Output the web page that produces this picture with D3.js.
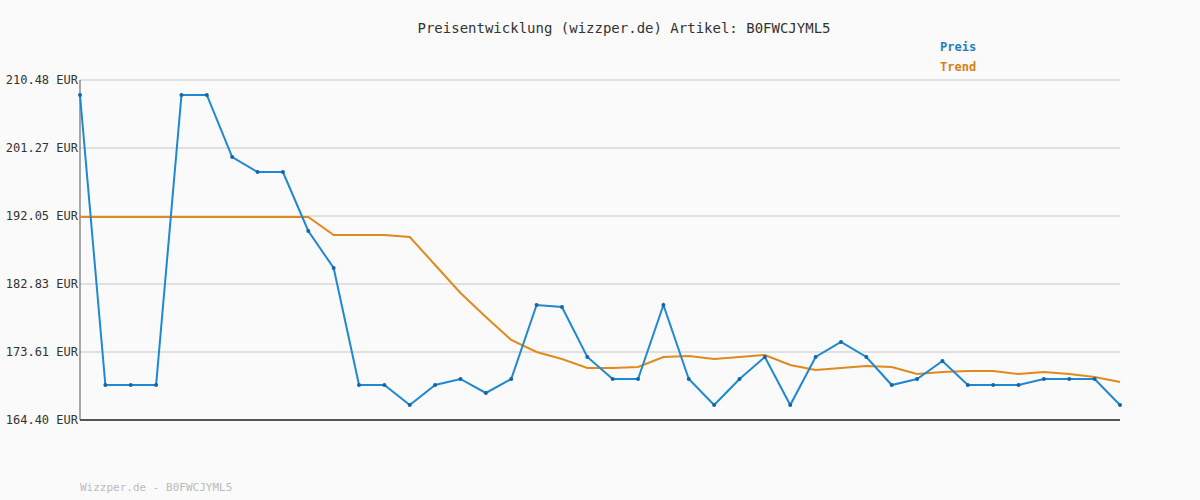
<!DOCTYPE html>
<html><head><meta charset="utf-8">
<script src="https://cdn.jsdelivr.net/npm/d3@7"></script>
<style>body{margin:0;background:#fafafa}text{font-family:"DejaVu Sans Mono",monospace}</style>
</head><body><div id="chart"></div>
<script>
// values
const preis = [208.45,169.14,169.14,169.14,208.45,208.45,200.04,198.01,198.01,190.02,185.00,169.14,169.14,166.43,169.14,169.96,168.06,169.96,179.99,179.71,172.94,169.96,169.96,179.99,169.96,166.43,169.96,172.94,166.43,172.94,174.97,172.94,169.14,169.96,172.40,169.14,169.14,169.14,169.96,169.96,169.96,166.43];
const trend = [191.91,191.91,191.91,191.91,191.91,191.91,191.91,191.91,191.91,191.91,189.47,189.47,189.47,189.20,185.41,181.61,178.36,175.24,173.62,172.67,171.45,171.45,171.58,172.94,173.07,172.67,172.94,173.21,171.85,171.18,171.45,171.72,171.58,170.63,170.91,171.04,171.04,170.63,170.91,170.63,170.23,169.55];
const yTicks = [164.40,173.61,182.83,192.05,201.27,210.48];

const width = 1200, height = 500;
const mLeft = 80, mRight = 1120, mTop = 80, mBottom = 420;

const svg = d3.select('#chart').append('svg')
  .attr('width', width).attr('height', height)
  .style('background', '#fafafa');

const x = d3.scaleLinear().domain([0, preis.length - 1]).range([mLeft, mRight]);
const y = d3.scaleLinear().domain([164.40, 210.48]).range([mBottom, mTop]);

svg.selectAll('line.grid').data(yTicks.slice(1)).enter().append('line')
  .attr('x1', mLeft).attr('x2', mRight)
  .attr('y1', d => y(d)).attr('y2', d => y(d))
  .attr('stroke', '#e0e0e0').attr('stroke-width', 2);

svg.selectAll('text.tick').data(yTicks).enter().append('text')
  .attr('x', 78).attr('y', d => y(d) + 4)
  .attr('text-anchor', 'end').attr('font-size', 12).attr('fill', '#333')
  .text(d => d.toFixed(2) + ' EUR');

svg.append('line').attr('x1', mLeft).attr('x2', mLeft).attr('y1', mTop).attr('y2', mBottom)
  .attr('stroke', '#555').attr('stroke-width', 1);
svg.append('line').attr('x1', mLeft).attr('x2', mRight).attr('y1', mBottom).attr('y2', mBottom)
  .attr('stroke', '#555').attr('stroke-width', 2);

const line = d3.line().x((d, i) => x(i)).y(d => y(d));

svg.append('path').datum(trend).attr('d', line)
  .attr('fill', 'none').attr('stroke', '#e08a1e').attr('stroke-width', 2);
svg.append('path').datum(preis).attr('d', line)
  .attr('fill', 'none').attr('stroke', '#1f88d2').attr('stroke-width', 2);
svg.selectAll('circle.pt').data(preis).enter().append('circle')
  .attr('cx', (d, i) => x(i)).attr('cy', d => y(d)).attr('r', 2)
  .attr('fill', '#1466a8');

svg.append('text').attr('x', 624).attr('y', 33).attr('text-anchor', 'middle')
  .attr('font-size', 14).attr('fill', '#333')
  .text('Preisentwicklung (wizzper.de) Artikel: B0FWCJYML5');

svg.append('text').attr('x', 940).attr('y', 51).attr('font-size', 12)
  .attr('font-weight', 'bold').attr('fill', '#1f7fc0').text('Preis');
svg.append('text').attr('x', 940).attr('y', 71).attr('font-size', 12)
  .attr('font-weight', 'bold').attr('fill', '#d98014').text('Trend');

svg.append('text').attr('x', 80).attr('y', 491).attr('font-size', 11)
  .attr('fill', '#bbb').text('Wizzper.de - B0FWCJYML5');
</script></body></html>
